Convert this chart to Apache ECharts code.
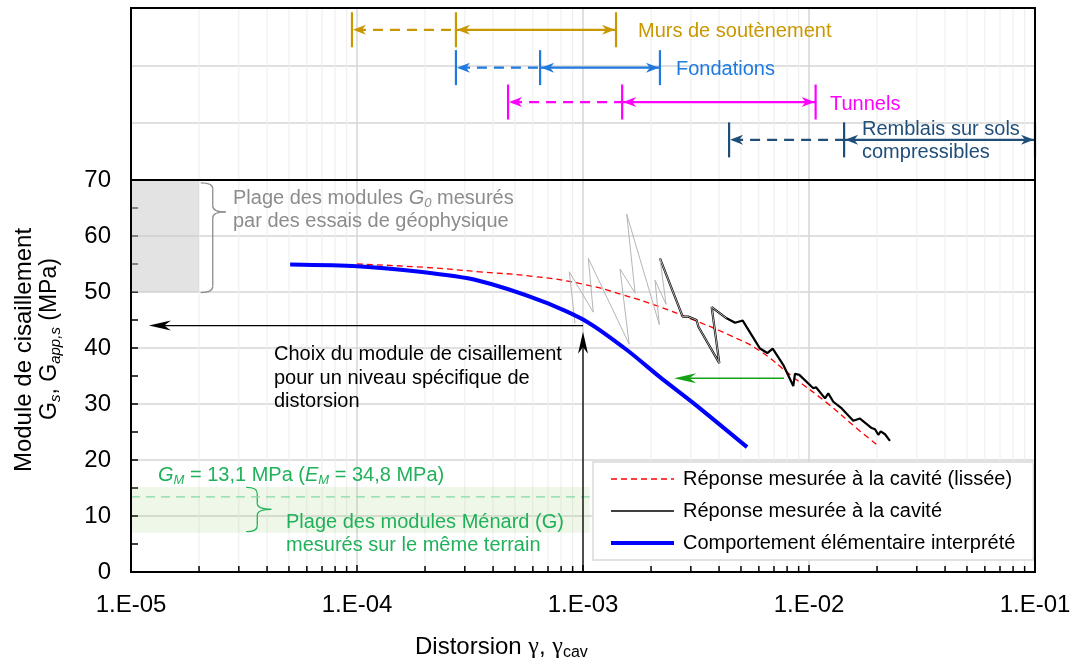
<!DOCTYPE html>
<html>
<head>
<meta charset="utf-8">
<title>Module de cisaillement / distorsion</title>
<script src="https://cdn.jsdelivr.net/npm/echarts@6/dist/echarts.min.js"></script>
<style>
  html, body { margin: 0; padding: 0; background: #fff; }
  #chart { width: 1074px; height: 667px; }
</style>
</head>
<body>
<div id="chart"></div>
<script>
const FONT = "'Liberation Sans', Arial, sans-serif";

// axe des distorsions (log)
const xTickLabels = ['1.E-05', '1.E-04', '1.E-03', '1.E-02', '1.E-01'];
const decades = [1e-5, 1e-4, 1e-3, 1e-2];
const minorSteps = [2, 3, 4, 5, 6, 7, 8, 9];

// comportement élémentaire interprété (bleu)
const interpX = [5.06e-5, 1e-4, 1.9e-4, 3.39e-4, 6.67e-4, 1.04e-3, 1.57e-3, 2.19e-3, 3.07e-3, 5.32e-3];
const interpY = [54.9, 54.6, 53.6, 52.1, 48.3, 44.7, 39.6, 34.8, 30.2, 22.3];

// réponse mesurée à la cavité, lissée (rouge)
const smoothX = [1e-4, 2e-4, 3.5e-4, 6e-4, 1e-3, 1.5e-3, 2.2e-3, 3e-3, 4.5e-3, 6e-3, 8.5e-3, 1.2e-2, 1.6e-2, 2e-2];
const smoothY = [55.0, 54.4, 53.6, 52.8, 51.4, 49.5, 47.3, 45.2, 42.2, 39.6, 34.8, 30.2, 25.9, 22.7];

// réponse mesurée à la cavité (noir)
const measX = [2.19e-3, 2.76e-3, 2.92e-3, 3.18e-3, 3.24e-3, 4.01e-3, 3.71e-3, 4.32e-3, 4.71e-3, 5.09e-3,
               6.07e-3, 6.54e-3, 6.91e-3, 7.69e-3, 8.52e-3, 8.67e-3, 9.06e-3, 1.045e-2, 1.074e-2, 1.177e-2,
               1.217e-2, 1.281e-2, 1.396e-2, 1.57e-2, 1.681e-2, 1.894e-2, 1.959e-2, 2.026e-2, 2.077e-2, 2.169e-2, 2.282e-2];
const measY = [56.0, 45.6, 45.6, 45.0, 43.8, 37.3, 47.3, 45.3, 44.5, 44.9,
               39.9, 39.1, 39.9, 37.0, 33.2, 35.4, 35.2, 32.8, 33.0, 31.0,
               31.9, 30.4, 29.2, 27.0, 27.4, 25.7, 25.5, 24.5, 25.1, 24.6, 23.4];

// boucles de début d'essai (gris)
const loopX = [9.22e-4, 8.70e-4, 1.11e-3, 1.056e-3, 1.60e-3, 1.458e-3, 1.70e-3, 1.561e-3, 2.176e-3, 2.083e-3,
               2.331e-3, 2.19e-3, 2.76e-3, 2.92e-3, 3.18e-3, 3.24e-3, 4.01e-3, 3.71e-3, 4.32e-3];
const loopY = [44.4, 53.6, 46.4, 56.0, 40.7, 54.1, 49.8, 63.9, 44.2, 52.1,
               47.8, 56.0, 45.6, 45.6, 45.0, 43.8, 37.3, 47.3, 45.3];

// plages d'application (bandeau du haut)
const rangeDashStart = [9.5e-5, 2.74e-4, 4.66e-4, 4.43e-3];
const rangeSolidStart = [2.74e-4, 6.46e-4, 1.49e-3, 1.43e-2];
const rangeEnd = [1.40e-3, 2.19e-3, 1.07e-2, 1e-1];
const rangeLevel = [2.62, 1.96, 1.36, 0.70];
const rangeColors = ['#C99700', '#1F7AE0', '#FF00FF', '#1F4E79'];

// zones de modules : [x1, y1, x2, y2]
const zoneG0 = [1e-5, 50, 2e-5, 70];
const zoneMenard = [1e-5, 7.0, 1.07e-3, 15.2];
const gmLevel = 13.4;
// accolades : [x, haut, bas, pointe]
const braceG0 = [2.3e-5, 69.5, 49.9, 64.3];
const braceMenard = [3.62e-5, 15.1, 7.2, 11.2];
// flèches : [x1, y1, x2, y2]
const arrowChoixH = [1e-3, 44.0, 1.2e-5, 44.0];
const arrowChoixV = [1e-3, 0, 1e-3, 42.9];
const arrowShift = [7.75e-3, 34.6, 2.53e-3, 34.6];

const pairs = (xs, ys) => xs.map((x, i) => [x, ys[i]]);
const minorX = decades.flatMap(d => minorSteps.map(m => m * d));

function arrowHead(tx, ty, dx, dy, len, half, color) {
    const bx = tx - dx * len, by = ty - dy * len;
    const nx = -dy, ny = dx;
    const mx = tx - dx * len * 0.7, my = ty - dy * len * 0.7;
    return {
        type: 'polygon',
        shape: { points: [[tx, ty], [bx + nx * half, by + ny * half], [mx, my], [bx - nx * half, by - ny * half]] },
        style: { fill: color }
    };
}

function renderMinorGrid(withTicks) {
    return function (params, api) {
        const cs = params.coordSys;
        const x = api.coord([api.value(0), api.value(1)])[0];
        const children = [{
            type: 'line',
            shape: { x1: x, y1: cs.y, x2: x, y2: cs.y + cs.height },
            style: { stroke: '#ededed', lineWidth: 1 }
        }];
        if (withTicks) {
            children.push({
                type: 'line',
                shape: { x1: x, y1: cs.y + cs.height, x2: x, y2: cs.y + cs.height - 6 },
                style: { stroke: '#000', lineWidth: 1.5 }
            });
        }
        return { type: 'group', children: children };
    };
}

// cadre noir de chaque grille
function renderFrame(params) {
    const cs = params.coordSys;
    return {
        type: 'rect',
        shape: { x: cs.x, y: cs.y, width: cs.width, height: cs.height },
        style: { stroke: '#000', lineWidth: 2, fill: null }
    };
}

function renderRange(params, api) {
    const i = params.dataIndex;
    const color = rangeColors[i];
    const y = api.coord([api.value(0), api.value(1)])[1];
    const xa = api.coord([api.value(0), api.value(1)])[0];
    const xb = api.coord([api.value(2), api.value(1)])[0];
    const xc = api.coord([api.value(3), api.value(1)])[0];
    const tick = x => ({ type: 'line', shape: { x1: x, y1: y - 17.5, x2: x, y2: y + 17.5 }, style: { stroke: color, lineWidth: 2.2 } });
    return {
        type: 'group',
        children: [
            { type: 'line', shape: { x1: xa + 4, y1: y, x2: xb, y2: y }, style: { stroke: color, lineWidth: 2.2, lineDash: [10, 7] } },
            { type: 'line', shape: { x1: xb, y1: y, x2: xc, y2: y }, style: { stroke: color, lineWidth: 2.2 } },
            tick(xa), tick(xb), tick(xc),
            arrowHead(xa + 1, y, -1, 0, 13, 5, color),
            arrowHead(xb + 1, y, -1, 0, 13, 5, color),
            arrowHead(xc - 1, y, 1, 0, 13, 5, color)
        ]
    };
}

const zoneColors = ['rgba(200,200,200,0.5)', 'rgba(140,200,100,0.15)'];
function renderZone(params, api) {
    const p1 = api.coord([api.value(0), api.value(1)]);
    const p2 = api.coord([api.value(2), api.value(3)]);
    return {
        type: 'rect',
        shape: { x: p1[0], y: p2[1], width: p2[0] - p1[0], height: p1[1] - p2[1] },
        style: { fill: zoneColors[params.dataIndex] }
    };
}

const braceColors = ['#8c8c8c', '#21b15a'];
const braceCurl = [12, 11];
const braceTip = [13, 14];
function renderBrace(params, api) {
    const i = params.dataIndex;
    const x = api.coord([api.value(0), api.value(1)])[0];
    const yt = api.coord([api.value(0), api.value(1)])[1];
    const yb = api.coord([api.value(0), api.value(2)])[1];
    const ym = api.coord([api.value(0), api.value(3)])[1];
    const w = braceCurl[i], t = braceTip[i], r = 6;
    const st = { stroke: braceColors[i], lineWidth: 1.3, fill: null };
    return {
        type: 'group',
        children: [
            { type: 'bezierCurve', shape: { x1: x - w, y1: yt, cpx1: x, cpy1: yt, x2: x, y2: yt + r }, style: st },
            { type: 'line', shape: { x1: x, y1: yt + r, x2: x, y2: ym - r }, style: st },
            { type: 'bezierCurve', shape: { x1: x, y1: ym - r, cpx1: x, cpy1: ym, x2: x + t, y2: ym }, style: st },
            { type: 'bezierCurve', shape: { x1: x + t, y1: ym, cpx1: x, cpy1: ym, x2: x, y2: ym + r }, style: st },
            { type: 'line', shape: { x1: x, y1: ym + r, x2: x, y2: yb - r }, style: st },
            { type: 'bezierCurve', shape: { x1: x, y1: yb - r, cpx1: x, cpy1: yb, x2: x - w, y2: yb }, style: st }
        ]
    };
}

const arrowColors = ['#000', '#000', '#16a016'];
function renderArrow(params, api) {
    const color = arrowColors[params.dataIndex];
    const p1 = api.coord([api.value(0), api.value(1)]);
    const p2 = api.coord([api.value(2), api.value(3)]);
    const dx = p2[0] - p1[0], dy = p2[1] - p1[1];
    const len = Math.sqrt(dx * dx + dy * dy);
    return {
        type: 'group',
        children: [
            { type: 'line', shape: { x1: p1[0], y1: p1[1], x2: p2[0] - dx / len * 8, y2: p2[1] - dy / len * 8 }, style: { stroke: color, lineWidth: 1.3 } },
            arrowHead(p2[0], p2[1], dx / len, dy / len, 22, 5, color)
        ]
    };
}

function richFill(color) {
    return {
        i: { fontStyle: 'italic', fontSize: 20, fontFamily: FONT, fill: color },
        is: { fontStyle: 'italic', fontSize: 13, fontFamily: FONT, lineHeight: 10, verticalAlign: 'bottom', fill: color }
    };
}
function note(x, y, text, color, lh) {
    return {
        type: 'text', x: x, y: y, silent: true, z: 20,
        style: {
            text: text, fill: color, font: '20px ' + FONT, lineHeight: lh,
            verticalAlign: 'top', align: 'left', rich: richFill(color)
        }
    };
}

const chart = echarts.init(document.getElementById('chart'), null, { renderer: 'canvas' });

const option = {
    animation: false,
    backgroundColor: '#fff',
    textStyle: { fontFamily: FONT },
    grid: [
        { left: 131, right: 39, top: 8, height: 172 },
        { left: 131, right: 39, top: 180, height: 392 }
    ],
    xAxis: [
        {
            gridIndex: 0, type: 'log', logBase: 10, min: 1e-5, max: 1e-1,
            axisLine: { show: false }, axisTick: { show: false }, axisLabel: { show: false },
            splitLine: { show: true, lineStyle: { color: '#d6d6d6', width: 1.5 } }
        },
        {
            gridIndex: 1, type: 'log', logBase: 10, min: 1e-5, max: 1e-1,
            axisLine: { show: true, onZero: false, lineStyle: { color: '#000', width: 2 } },
            axisTick: { show: true, inside: true, length: 7, lineStyle: { color: '#000', width: 1.5 } },
            axisLabel: {
                color: '#000', fontSize: 24, fontFamily: FONT, margin: 21,
                formatter: v => xTickLabels[Math.round(Math.log10(v)) + 5]
            },
            splitLine: { show: true, lineStyle: { color: '#d6d6d6', width: 1.5 } }
        }
    ],
    yAxis: [
        {
            gridIndex: 0, type: 'value', min: 0, max: 3, interval: 1,
            axisLine: { show: false }, axisTick: { show: false }, axisLabel: { show: false },
            splitLine: { show: true, lineStyle: { color: '#d6d6d6', width: 1.5 } }
        },
        {
            gridIndex: 1, type: 'value', min: 0, max: 70, interval: 10,
            axisLine: { show: true, onZero: false, lineStyle: { color: '#000', width: 2 } },
            axisTick: { show: true, inside: true, length: 7, lineStyle: { color: '#000', width: 1.5 } },
            minorTick: { show: true, splitNumber: 2, length: 7, lineStyle: { color: '#000', width: 1.5 } },
            axisLabel: { color: '#000', fontSize: 24, fontFamily: FONT, margin: 20 },
            splitLine: { show: true, lineStyle: { color: '#d6d6d6', width: 1.5 } }
        }
    ],
    legend: {
        orient: 'vertical', left: 593, top: 462,
        padding: [7, 18, 7, 16],
        itemWidth: 63, itemHeight: 14, itemGap: 12,
        selectedMode: false,
        itemStyle: { opacity: 0 },
        backgroundColor: '#fff', borderColor: '#d9d9d9', borderWidth: 1.5, borderRadius: 0,
        textStyle: { fontSize: 20, fontFamily: FONT, color: '#000', padding: [0, 0, 0, 4] },
        data: [
            { name: 'Réponse mesurée à la cavité (lissée)', lineStyle: { color: '#ff0000', width: 1.3, type: [6, 4] } },
            { name: 'Réponse mesurée à la cavité', lineStyle: { color: '#000', width: 1.5 } },
            { name: 'Comportement élémentaire interprété', lineStyle: { color: '#0000ff', width: 4 } }
        ]
    },
    series: [
        {
            type: 'custom', xAxisIndex: 0, yAxisIndex: 0, z: 1, silent: true,
            renderItem: renderMinorGrid(false), data: minorX.map(v => [v, 1])
        },
        {
            type: 'custom', xAxisIndex: 1, yAxisIndex: 1, z: 1, silent: true,
            renderItem: renderMinorGrid(true), data: minorX.map(v => [v, 1])
        },
        {
            type: 'custom', xAxisIndex: 1, yAxisIndex: 1, z: 2, silent: true,
            renderItem: renderZone, data: [zoneG0, zoneMenard]
        },
        {
            type: 'line', xAxisIndex: 1, yAxisIndex: 1, z: 3, silent: true,
            symbol: 'none', data: [[zoneMenard[0], gmLevel], [zoneMenard[2], gmLevel]],
            lineStyle: { color: '#86d9a6', width: 1.3, type: [9, 6] }
        },
        {
            type: 'custom', xAxisIndex: 1, yAxisIndex: 1, z: 3, silent: true,
            renderItem: renderBrace, data: [braceG0, braceMenard]
        },
        {
            type: 'custom', xAxisIndex: 0, yAxisIndex: 0, z: 3, silent: true,
            renderItem: renderRange,
            data: rangeLevel.map((y, i) => [rangeDashStart[i], y, rangeSolidStart[i], rangeEnd[i]])
        },
        {
            type: 'custom', xAxisIndex: 1, yAxisIndex: 1, z: 4, silent: true,
            renderItem: renderArrow, data: [arrowChoixH, arrowChoixV, arrowShift]
        },
        {
            name: 'Réponse mesurée à la cavité (lissée)',
            type: 'line', xAxisIndex: 1, yAxisIndex: 1, z: 5, silent: true,
            symbol: 'none', smooth: true, data: pairs(smoothX, smoothY),
            itemStyle: { color: '#ff0000' },
            lineStyle: { color: '#ff0000', width: 1.3, type: [6, 4] }
        },
        {
            name: 'Réponse mesurée à la cavité',
            type: 'line', xAxisIndex: 1, yAxisIndex: 1, z: 6, silent: true,
            symbol: 'none', data: pairs(measX, measY),
            itemStyle: { color: '#000' },
            lineStyle: { color: '#000', width: 2.2 }
        },
        {
            type: 'line', xAxisIndex: 1, yAxisIndex: 1, z: 7, silent: true,
            symbol: 'none', data: pairs(loopX, loopY),
            lineStyle: { color: '#b5b5b5', width: 1 }
        },
        {
            name: 'Comportement élémentaire interprété',
            type: 'line', xAxisIndex: 1, yAxisIndex: 1, z: 8, silent: true,
            symbol: 'none', smooth: 0.25, data: pairs(interpX, interpY),
            itemStyle: { color: '#0000ff' },
            lineStyle: { color: '#0000ff', width: 4 }
        },
        {
            type: 'custom', xAxisIndex: 0, yAxisIndex: 0, z: 9, silent: true,
            renderItem: renderFrame, data: [[1e-5, 0]]
        },
        {
            type: 'custom', xAxisIndex: 1, yAxisIndex: 1, z: 9, silent: true,
            renderItem: renderFrame, data: [[1e-5, 0]]
        }
    ],
    graphic: [
        // titres d'axes
        {
            type: 'text', x: 24, y: 350, rotation: Math.PI / 2, silent: true,
            style: { text: 'Module de cisaillement', fill: '#000', font: '24px ' + FONT, align: 'center', verticalAlign: 'middle' }
        },
        {
            type: 'text', x: 50, y: 339, rotation: Math.PI / 2, silent: true,
            style: {
                text: 'G{s|s}, G{s|app,s} (MPa)', fill: '#000', font: '23px ' + FONT, lineHeight: 26,
                align: 'center', verticalAlign: 'middle',
                rich: { s: { fontStyle: 'italic', fontSize: 15, fontFamily: FONT, lineHeight: 12, verticalAlign: 'bottom', fill: '#000' } }
            }
        },
        {
            type: 'text', x: 415, y: 647, silent: true,
            style: {
                text: 'Distorsion {g|γ}, {g|γ}{s|cav}', fill: '#000', font: '24px ' + FONT, lineHeight: 28,
                align: 'left', verticalAlign: 'middle',
                rich: {
                    g: { fontFamily: "'Liberation Serif', serif", fontSize: 24, fill: '#000' },
                    s: { fontSize: 16, fontFamily: FONT, lineHeight: 12, verticalAlign: 'bottom', fill: '#000' }
                }
            }
        },
        // bandeau du haut
        note(638, 20, 'Murs de soutènement', rangeColors[0], 23),
        note(676, 57.5, 'Fondations', rangeColors[1], 23),
        note(830, 92.5, 'Tunnels', rangeColors[2], 23),
        note(862, 117.5, 'Remblais sur sols\ncompressibles', rangeColors[3], 23.3),
        // annotations du graphique
        note(233, 186.5, 'Plage des modules {i|G}{is|0} mesurés\npar des essais de géophysique', '#8c8c8c', 23.3),
        note(274, 343, 'Choix du module de cisaillement\npour un niveau spécifique de\ndistorsion', '#000', 23.5),
        note(158, 463.3, '{i|G}{is|M} = 13,1 MPa ({i|E}{is|M} = 34,8 MPa)', '#21b15a', 23.4),
        note(286, 510.6, 'Plage des modules Ménard (G)\nmesurés sur le même terrain', '#21b15a', 23.4)
    ]
};

chart.setOption(option);
</script>
</body>
</html>
